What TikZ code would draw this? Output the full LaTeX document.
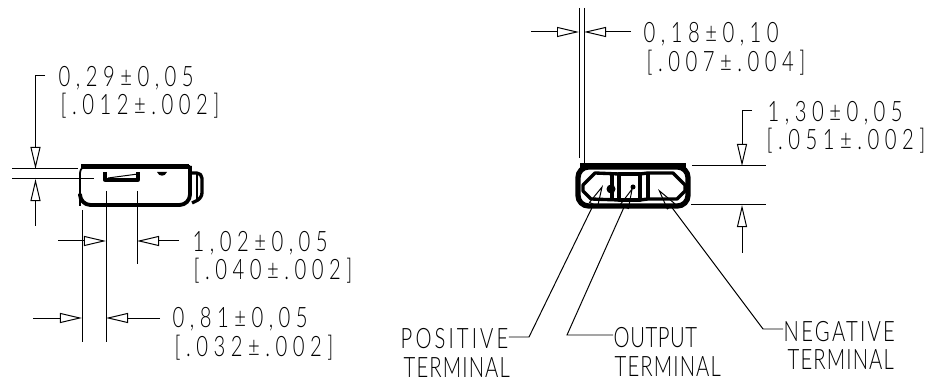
\documentclass[tikz,border=0pt]{standalone}
\usepackage{fontspec}
\setmainfont[LetterSpace=19.5,FakeStretch=0.72]{Lato Light}
\usepackage{tikz}
\usetikzlibrary{arrows.meta}
\tikzset{
	thin line/.style={line width=0.28pt},
	dim line/.style={thin line,-{Triangle[open,length=0.22cm,width=0.10cm,line width=0.28pt]}},
	body line/.style={line width=0.95pt,line join=round},
	dim text/.style={anchor=west,inner sep=0pt,font=\fontsize{8}{9}\selectfont},
	word text/.style={dim text,font=\fontsize{8}{9}\selectfont\addfontfeature{LetterSpace=#1}}
}
\begin{document}
\begin{tikzpicture}[x=0.01cm,y=-0.01cm]
	\useasboundingbox (0,0) rectangle (925,383);
	\node[dim text] at (58,78) (a1) {0,29±0,05};
	\node[dim text] at (60,106) (a2) {[.012±.002]};
	\node[dim text] at (192,243) (b1) {1,02±0,05};
	\node[dim text] at (193,271) (b2) {[.040±.002]};
	\node[dim text] at (172,319) (c1) {0,81±0,05};
	\node[dim text] at (174,348) (c2) {[.032±.002]};
	\node[dim text] at (643,34) (d1) {0,18±0,10};
	\node[dim text] at (646,63) (d2) {[.007±.004]};
	\node[dim text] at (767,113) (e1) {1,30±0,05};
	\node[dim text] at (766,141) (e2) {[.051±.002]};
	\node[word text=11] at (400,339) (p1) {POSITIVE};
	\node[word text=4] at (403,368) (p2) {TERMINAL};
	\node[word text=2] at (613,338) (o1) {OUTPUT};
	\node[word text=4] at (614,367) (o2) {TERMINAL};
	\node[word text=8] at (783,332) (n1) {NEGATIVE};
	\node[word text=4] at (787,360) (n2) {TERMINAL};

	\draw[line width=0.5pt,rounded corners=2pt] (80,206) -- (80,166) -- (190,166);
	\draw[body line,line width=1.1pt,rounded corners=3pt] (80,196) -- (80,205) -- (190,205) -- (190,166);
	\draw[line width=1.5pt] (81,166.5) -- (189,166.5);
	\draw[body line,rounded corners=1.5pt] (190,173) -- (202,173) -- (202,198) -- (192,203);
	\draw[line width=0.5pt] (197,173) -- (197,199);
	\draw[body line] (105,172) -- (105,180) -- (138,180) -- (138,172);
	\draw[thin line] (108,178) -- (138,174);
	\fill (157,172) .. controls (159,177) and (165,177) .. (167,172) -- cycle;

	\draw[line width=1.5pt,rounded corners=3pt] (578,167) rectangle (688,206);
	\draw[line width=1.6pt] (580,166) -- (686,166);
	\draw[body line] (619,174) -- (595,173) -- (583,185) -- (583,191) -- (591,199) -- (619,200);
	\draw[body line] (612,173) -- (612,199);
	\draw[body line] (619,174) rectangle (640,200);
	\draw[body line] (640,174) -- (648,173) -- (673,173) -- (685,185) -- (685,191) -- (677,199) -- (648,199) -- (640,200);
	\draw[body line] (648,173) -- (648,199);
	\fill (611,189) circle[radius=0.045cm];
	\fill (633,187) circle[radius=0.025cm];

	\coordinate (j1) at (45,76);
	\coordinate (j2) at (35.5,76);
	\coordinate (j3) at (35.5,226);
	\coordinate (t1) at (35.5,169);
	\coordinate (t2) at (35.5,179);
	\draw[dim line] (j1) -- (j2) -- (t1);
	\draw[dim line] (j3) -- (t2);
	\draw[thin line] (12,169) -- (78,169);
	\draw[thin line] (12,179) -- (94,179);

	\coordinate (f1) at (58,241);
	\coordinate (t3) at (106,241);
	\coordinate (f2) at (179,241);
	\coordinate (t4) at (137,241);
	\draw[dim line] (f1) -- (t3);
	\draw[dim line] (f2) -- (t4);
	\coordinate (f3) at (33,318);
	\coordinate (t5) at (82,318);
	\coordinate (f4) at (160,318);
	\coordinate (t6) at (106,318);
	\draw[dim line] (f3) -- (t5);
	\draw[dim line] (f4) -- (t6);
	\draw[thin line] (82,210) -- (82,342);
	\draw[thin line] (106,191) -- (106,342);
	\draw[thin line] (137,191) -- (137,264);

	\coordinate (f5) at (531,32);
	\coordinate (t7) at (579,32);
	\coordinate (f6) at (631,32);
	\coordinate (t8) at (584,32);
	\draw[dim line] (f5) -- (t7);
	\draw[dim line] (f6) -- (t8);
	\draw[thin line] (579,8) -- (579,158);
	\draw[thin line] (584,8) -- (584,165);

	\coordinate (j4) at (752,111);
	\coordinate (j5) at (742,111);
	\coordinate (t9) at (742,166);
	\coordinate (f7) at (742,253);
	\coordinate (t10) at (742,205);
	\draw[dim line] (j4) -- (j5) -- (t9);
	\draw[dim line] (f7) -- (t10);
	\draw[thin line] (692,166) -- (766,166);
	\draw[thin line] (691,205) -- (766,205);

	\coordinate (k1) at (529,337);
	\coordinate (k2) at (567,335);
	\coordinate (k3) at (763,329);
	\coordinate (h1) at (603,185);
	\coordinate (h2) at (633,187);
	\coordinate (h3) at (658,189);
	\draw[dim line] (p1.east |- k1) -- (k1) -- (h1);
	\draw[dim line] (o1.west |- k2) -- (k2) -- (h2);
	\draw[dim line] (n1.west |- k3) -- (k3) -- (h3);
\end{tikzpicture}
\end{document}
